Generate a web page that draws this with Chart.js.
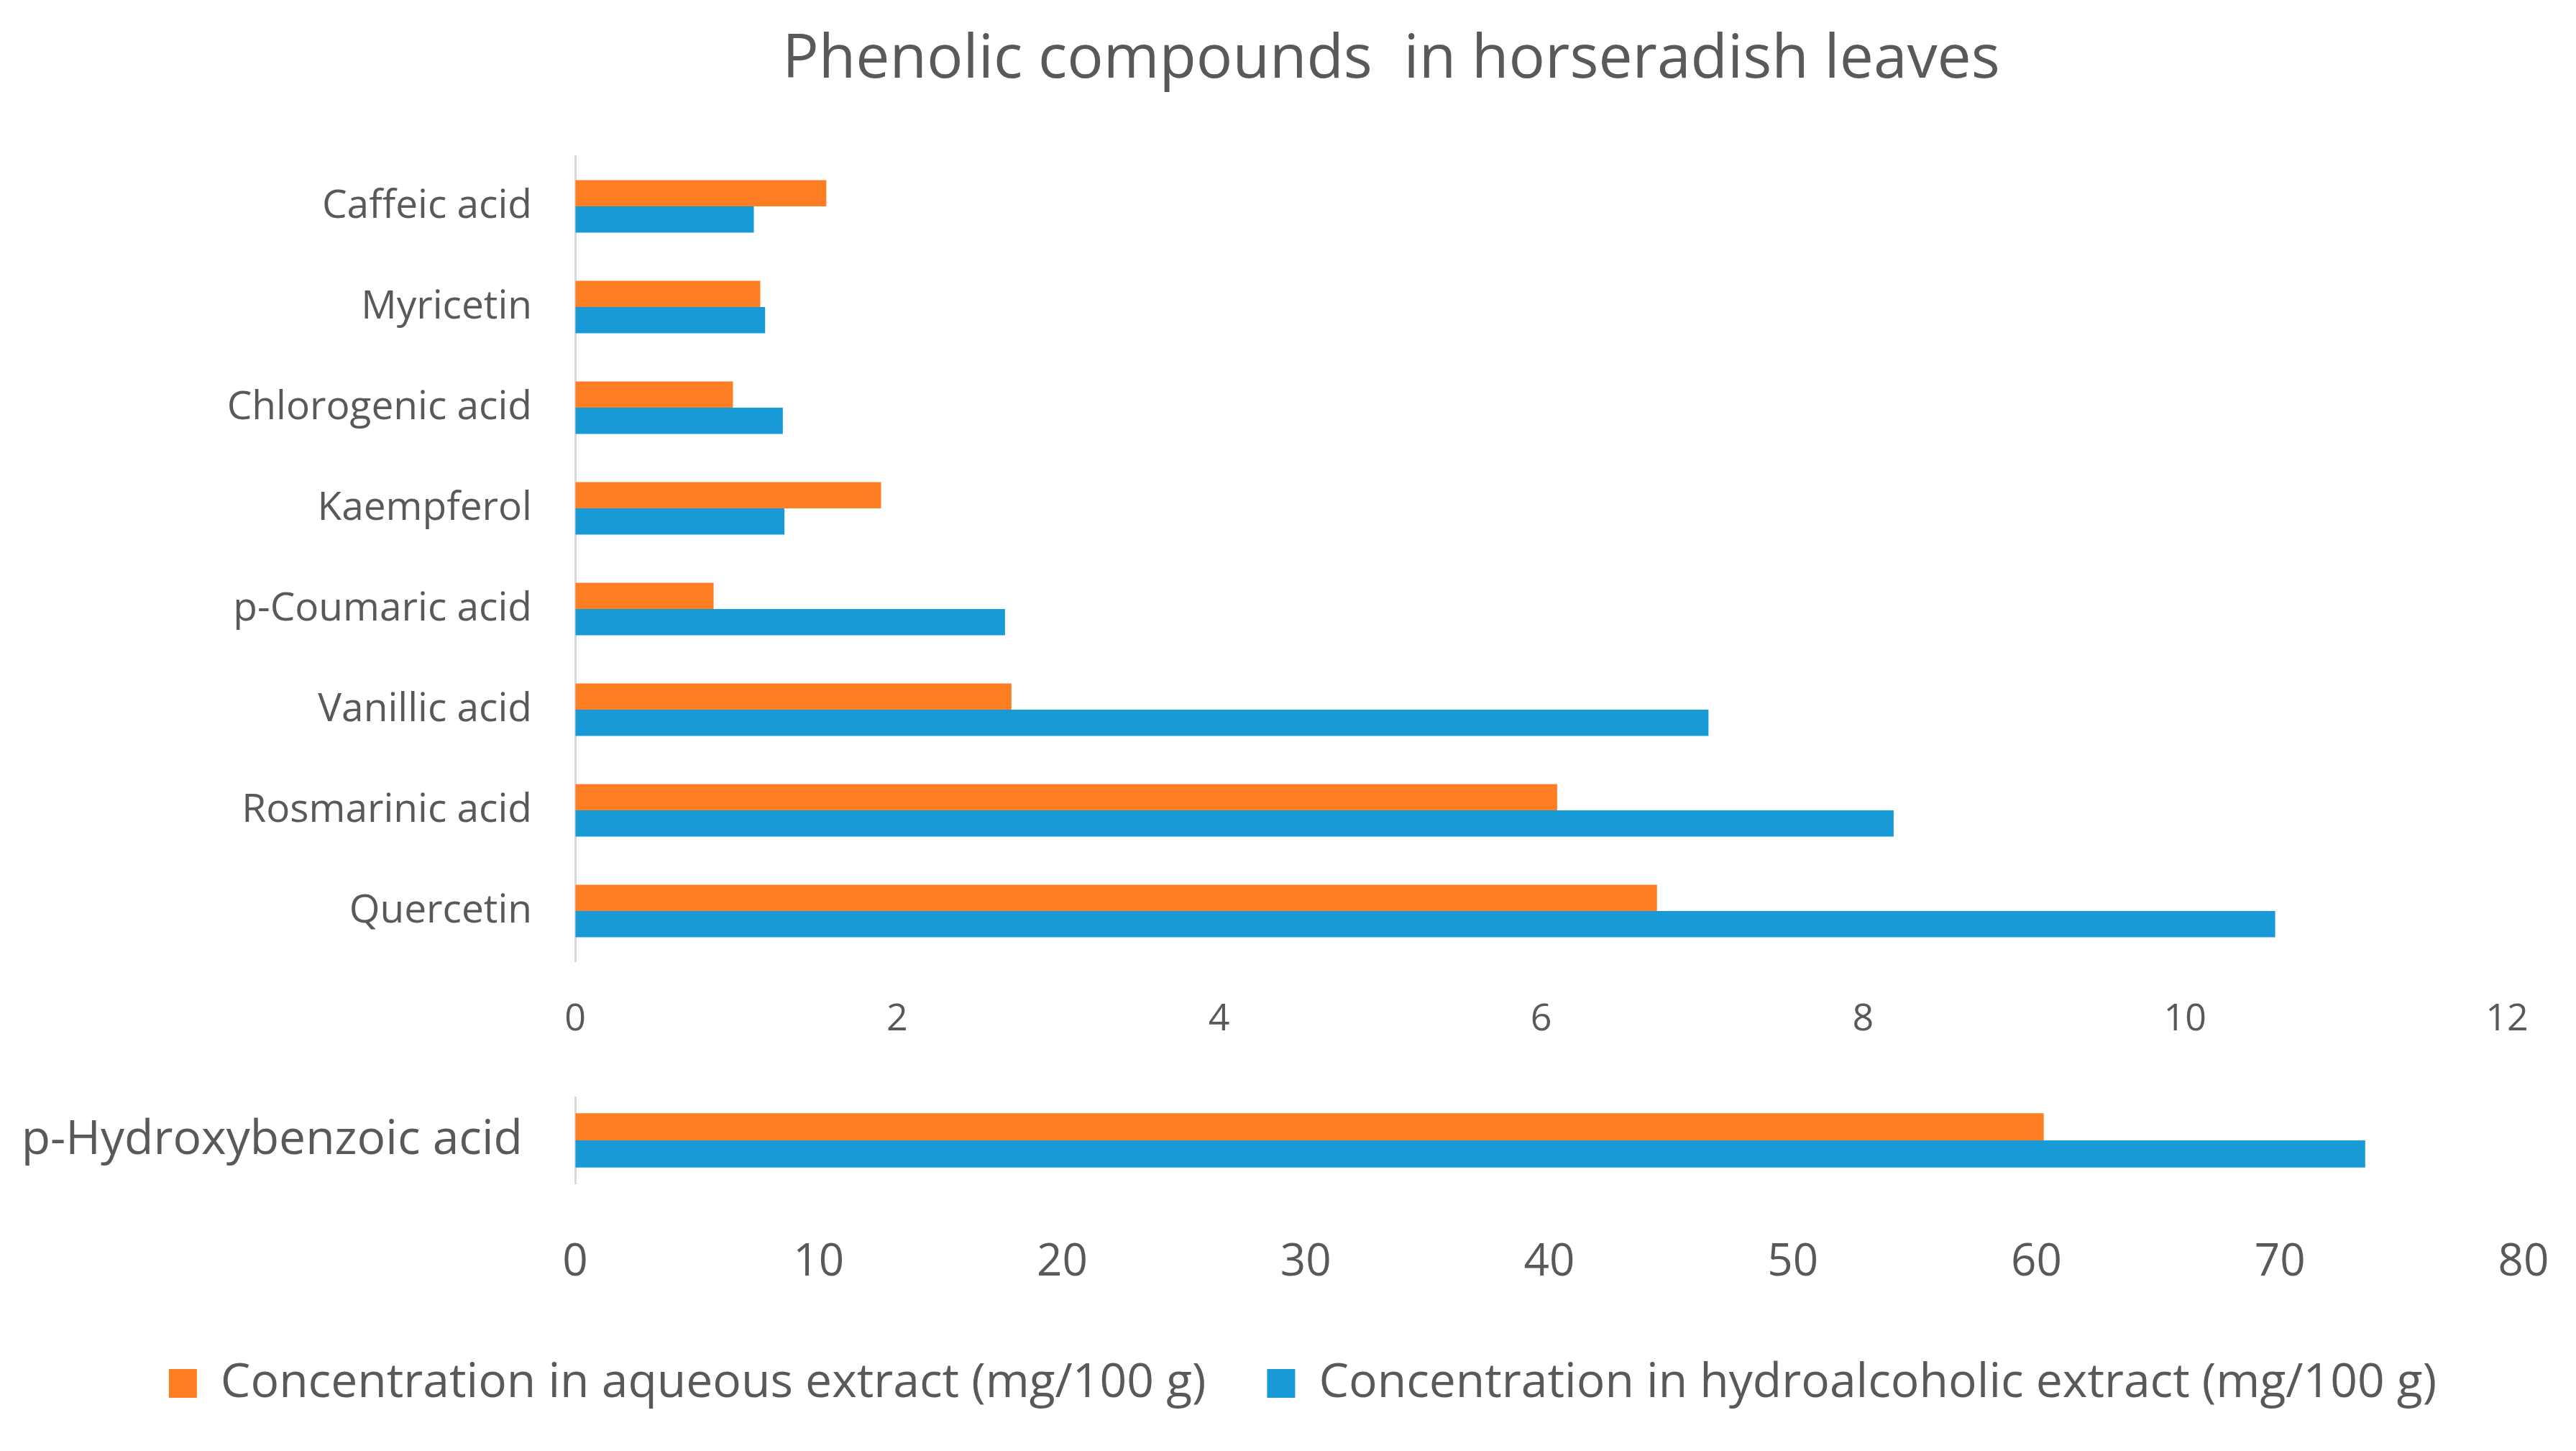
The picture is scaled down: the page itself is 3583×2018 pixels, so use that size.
<!DOCTYPE html>
<html>
<head>
<meta charset="utf-8">
<title>Phenolic compounds in horseradish leaves</title>
<script src="https://cdn.jsdelivr.net/npm/chart.js@4"></script>
<style>
  body { margin:0; background:#fff; }
  #page { position:relative; width:3583px; height:2018px; background:#fff; overflow:hidden; }
  #title { position:absolute; left:1935px; top:75px; transform:translate(-50%,-50%);
           font-family:"Open Sans", sans-serif; font-size:84px; color:#595959; white-space:pre; }
  #topBox { position:absolute; left:0; top:0; width:3583px; height:1480px; }
  /* a bit wider than the page so the legend centre sits where it does in the picture */
  #lowBox { position:absolute; left:0; top:1480px; width:3624px; height:538px; }
</style>
</head>
<body>
<div id="page">
  <div id="title">Phenolic compounds  in horseradish leaves</div>
  <div id="topBox"><canvas id="topChart"></canvas></div>
  <div id="lowBox"><canvas id="lowChart"></canvas></div>
</div>
<script>
// ---- data (mg/100 g) ----
// upper panel : small values, x axis 0..12
const compounds      = ['Caffeic acid', 'Myricetin', 'Chlorogenic acid', 'Kaempferol', 'p-Coumaric acid', 'Vanillic acid', 'Rosmarinic acid', 'Quercetin'];
const aqueous        = [1.56, 1.15, 0.98, 1.90, 0.86, 2.71, 6.10, 6.72];
const hydroalcoholic = [1.11, 1.18, 1.29, 1.30, 2.67, 7.04, 8.19, 10.56];
const topTicks       = [0, 2, 4, 6, 8, 10, 12];

// lower panel : the big one, x axis 0..80
const bigCompounds      = ['p-Hydroxybenzoic acid'];
const bigAqueous        = [60.3];
const bigHydroalcoholic = [73.5];
const lowTicks          = [0, 10, 20, 30, 40, 50, 60, 70, 80];

const seriesNames = ['Concentration in aqueous extract (mg/100 g)', 'Concentration in hydroalcoholic extract (mg/100 g)'];
const orange = '#FD7E23';
const blue   = '#189AD6';

Chart.defaults.font.family = '"Open Sans", sans-serif';
Chart.defaults.color = '#595959';
Chart.defaults.animation = false;

// invisible tick marks, used only to push the labels away from the axis
// (ticks.padding would also grow the outer padding of the chart area)
function hiddenGrid(len)
{
  return { display: true, drawOnChartArea: false, drawTicks: true, tickLength: len, color: 'rgba(0,0,0,0)' };
}

// build a horizontal bar chart, both panels share this
function makeChart(id, labels, a, b, ticks, opt)
{
  const ctx = document.getElementById(id).getContext('2d');
  return new Chart(ctx, {
    type: 'bar',
    data: {
      labels: labels,
      datasets: [
        { label: seriesNames[0], data: a, backgroundColor: orange, barPercentage: 1, categoryPercentage: opt.catPct },
        { label: seriesNames[1], data: b, backgroundColor: blue,   barPercentage: 1, categoryPercentage: opt.catPct }
      ]
    },
    options: {
      indexAxis: 'y',
      responsive: true,
      maintainAspectRatio: false,
      layout: { padding: opt.padding },
      plugins: {
        tooltip: { enabled: false },
        legend: opt.legend
      },
      scales: {
        x: {
          min: ticks[0],
          max: ticks[ticks.length - 1],
          afterBuildTicks: (s) => { s.ticks = ticks.map(v => ({ value: v })); },
          grid: hiddenGrid(opt.xPad),
          border: { display: false },
          ticks: { font: { size: opt.xFont }, padding: 0, maxRotation: 0 },
          afterFit: (s) => {
            s.height = opt.xHeight;
            if (opt.xRight) s.paddingRight = opt.xRight;   // keeps the plot right edge in place
          }
        },
        y: {
          grid: hiddenGrid(opt.yPad),
          border: { display: true, color: '#D9D9D9', width: 3 },
          ticks: { font: { size: opt.yFont }, padding: 0 },
          afterFit: (s) => { s.width = 800; }
        }
      }
    }
  });
}

// upper panel
makeChart('topChart', compounds, aqueous, hydroalcoholic, topTicks, {
  catPct: 0.52,
  padding: { top: 217, right: 96, bottom: 0, left: 0 },
  legend: { display: false },
  xFont: 52, xPad: 50, xHeight: 143,
  yFont: 55, yPad: 60
});

// lower panel with the legend underneath
makeChart('lowChart', bigCompounds, bigAqueous, bigHydroalcoholic, lowTicks, {
  catPct: 0.63,
  padding: { top: 46, right: 0, bottom: 51, left: 0 },
  legend: {
    display: true,
    position: 'bottom',
    labels: { boxWidth: 39, boxHeight: 40, padding: 85, font: { size: 66 }, color: '#595959' }
  },
  xFont: 62, xPad: 73, xHeight: 160, xRight: 114,
  yFont: 66, yPad: 73
});
</script>
</body>
</html>
